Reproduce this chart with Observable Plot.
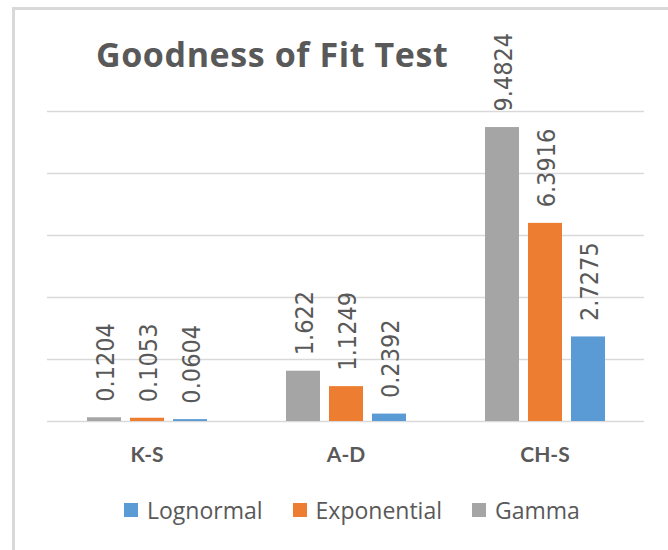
<!DOCTYPE html>
<html>
<head>
<meta charset="utf-8">
<script src="https://cdn.jsdelivr.net/npm/d3@7"></script>
<script src="https://cdn.jsdelivr.net/npm/@observablehq/plot@0.6"></script>
<style>
  html, body { margin: 0; padding: 0; background: #fff; }
  #wrap { position: relative; width: 668px; height: 550px; overflow: hidden; background: #fff; }
  #frame { position: absolute; left: 12px; top: 7px; width: 720px; height: 600px;
           border-left: 3px solid #d9d9d9; border-top: 3px solid #d9d9d9; box-sizing: border-box; }
  #title { position: absolute; left: 96px; top: 37px; font: bold 34px "Open Sans", Lato, sans-serif;
           line-height: 1; color: #595959; white-space: nowrap; letter-spacing: 0.6px; }
  #chart { position: absolute; left: 0; top: 0; }
  #legend { position: absolute; left: 124px; top: 497px; display: flex; align-items: center;
            font: 23px "Open Sans", Lato, sans-serif; color: #595959; line-height: 26px; white-space: nowrap; }
  #legend .item { display: flex; align-items: center; margin-right: 30px; }
  #legend .sw { width: 14px; height: 14px; margin-right: 9px; }
  g[aria-label^="fx-axis"] text { font: bold 21px Lato, "Open Sans", sans-serif; fill: #595959; }
  g[aria-label="text"] text { font-stretch: condensed; }
</style>
</head>
<body>
<div id="wrap">
  <div id="frame"></div>
  <div id="chart"></div>
  <div id="title"></div>
  <div id="legend"></div>
</div>
<script>
const chartTitle = "Goodness of Fit Test";
const tests = ["K-S", "A-D", "CH-S"];
const series = ["Gamma", "Exponential", "Lognormal"];
const gamma = [0.1204, 1.622, 9.4824];
const exponential = [0.1053, 1.1249, 6.3916];
const lognormal = [0.0604, 0.2392, 2.7275];
const yTicks = [0, 2, 4, 6, 8, 10];
const legendOrder = ["Lognormal", "Exponential", "Gamma"];
const colors = ["#a5a5a5", "#ed7d31", "#5b9bd5"];

const valuesBySeries = [gamma, exponential, lognormal];
const data = tests.flatMap((t, i) => series.map((s, j) => ({test: t, dist: s, value: valuesBySeries[j][i]})));

document.getElementById("title").textContent = chartTitle;

const plot = Plot.plot({
  width: 668,
  height: 480,
  marginTop: 111,
  marginBottom: 59,
  marginLeft: 46,
  marginRight: 23,
  style: {background: "transparent", color: "#595959", fontFamily: "Lato, sans-serif"},
  fx: {domain: tests, padding: 0, label: null, tickSize: 0, tickPadding: 26, axis: "bottom"},
  x: {domain: series, paddingInner: 0.216, paddingOuter: 0.88, axis: null},
  y: {domain: [0, 10], axis: null},
  color: {domain: series, range: colors},
  marks: [
    Plot.ruleY(yTicks, {stroke: "#d9d9d9", strokeWidth: 1.3}),
    Plot.barY(data, {fx: "test", x: "dist", y: "value", fill: "dist"}),
    Plot.text(data, {
      fx: "test", x: "dist", y: "value",
      text: d => String(d.value),
      rotate: -90, textAnchor: "start", lineAnchor: "middle",
      dy: -16, dx: 1,
      fontSize: 25, fontFamily: "'DejaVu Sans Condensed', 'DejaVu Sans', sans-serif",
      fill: "#595959"
    })
  ]
});
document.getElementById("chart").appendChild(plot);

const legend = document.getElementById("legend");
for (const name of legendOrder) {
  const item = document.createElement("div");
  item.className = "item";
  const sw = document.createElement("div");
  sw.className = "sw";
  sw.style.background = colors[series.indexOf(name)];
  const label = document.createElement("span");
  label.textContent = name;
  item.appendChild(sw);
  item.appendChild(label);
  legend.appendChild(item);
}
</script>
</body>
</html>
